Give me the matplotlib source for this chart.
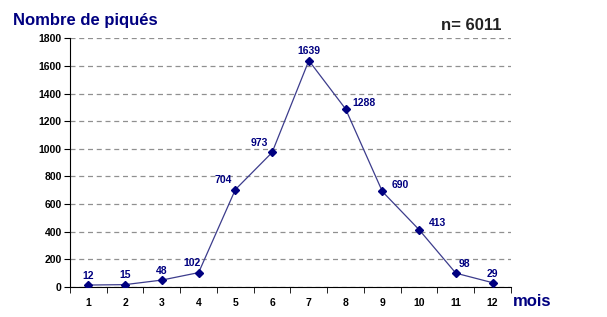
import matplotlib.pyplot as plt

plt.rcParams['font.family'] = ['Liberation Sans', 'DejaVu Sans']

mois = [1, 2, 3, 4, 5, 6, 7, 8, 9, 10, 11, 12]
piques = [12, 15, 48, 102, 704, 973, 1639, 1288, 690, 413, 98, 29]
# label offsets (points) for each data label
offsets = [(0, 3), (0, 3), (0, 3), (-5, 3), (-9, 3), (-9, 3),
           (0, 3), (13, 1), (13, 1), (13, 1), (6, 3), (0, 3)]

navy = '#000080'

fig = plt.figure(figsize=(6.07, 3.17), dpi=100)
ax = fig.add_axes([0.1153, 0.0956, 0.7265, 0.7834])

ax.plot(mois, piques, color='#3c3c8c', linewidth=0.9, marker='D',
        markersize=4, markerfacecolor=navy, markeredgecolor=navy, zorder=3)

for x, y, (dx, dy) in zip(mois, piques, offsets):
    ax.annotate(str(y), (x, y), xytext=(dx, dy), textcoords='offset points',
                ha='center', va='bottom', fontsize=7.5, fontweight='bold',
                color=navy)

ax.set_xlim(0.5, 12.5)
ax.set_ylim(0, 1800)
ax.set_yticks(range(0, 1801, 200))
ax.set_xticks(mois)
ax.set_xticks([i + 0.5 for i in range(0, 13)], minor=True)
ax.tick_params(axis='x', which='major', length=0, pad=8)
ax.tick_params(axis='x', which='minor', length=4, direction='out')
ax.tick_params(axis='y', length=4, direction='out', pad=2)
for lab in ax.get_xticklabels() + ax.get_yticklabels():
    lab.set_fontsize(7.5)
    lab.set_fontweight('bold')

ax.yaxis.grid(True, linestyle=(0, (4, 3)), color='#909090', linewidth=0.9)
ax.set_axisbelow(True)
for s in ['top', 'right']:
    ax.spines[s].set_visible(False)

fig.text(0.021, 0.935, 'Nombre de piqués', fontsize=12, fontweight='bold',
         color=navy, va='center', ha='left')
fig.text(0.827, 0.92, 'n= 6011', fontsize=12, fontweight='bold',
         color='#222222', va='center', ha='right')
fig.text(0.845, 0.05, 'mois', fontsize=12, fontweight='bold',
         color=navy, va='center', ha='left')

plt.savefig('out.png', dpi=100)
